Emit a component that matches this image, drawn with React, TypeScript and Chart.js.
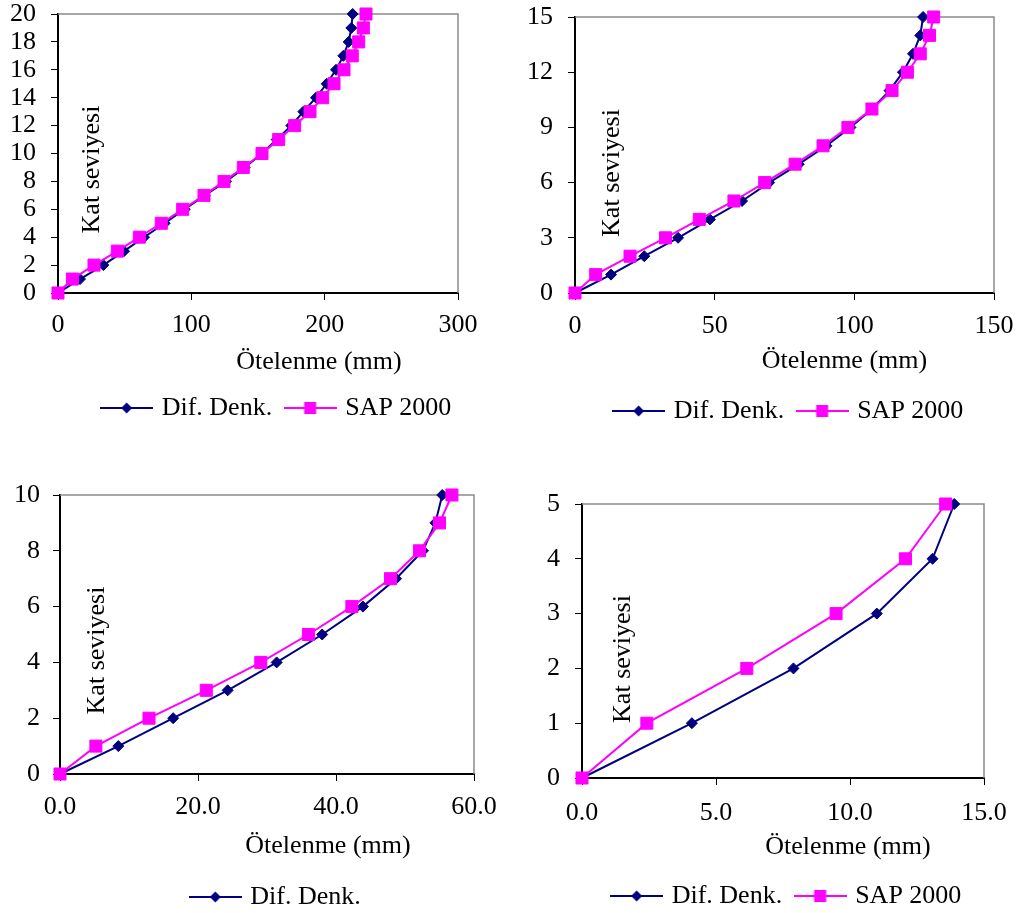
import React, { useEffect, useRef } from 'react';
import { Chart, registerables } from 'chart.js';

Chart.register(...registerables);

const FONT = "'Liberation Serif', 'Times New Roman', serif";
const NAVY = '#000080';
const MAGENTA = '#FF00FF';
const FONT_SIZE = 26;
const LEG_PAD = 16;

// ---- Data (floor level vs. displacement in mm) ----
const floors20 = [0, 1, 2, 3, 4, 5, 6, 7, 8, 9, 10, 11, 12, 13, 14, 15, 16, 17, 18, 19, 20];
const difDenk20 = [0, 16.5, 34, 49.5, 64.5, 80, 95, 110, 126, 140, 153, 164, 175, 184, 193.5, 201.5, 208.5, 214, 218, 220, 221];
const sap20 = [0, 10.8, 27, 44.5, 61, 77.5, 93.5, 109.5, 124.5, 139, 153, 165.5, 177.5, 189, 198.5, 207, 214.5, 220.7, 225.5, 229, 231];
const xTicks20 = [0, 100, 200, 300];
const yTicks20 = [0, 2, 4, 6, 8, 10, 12, 14, 16, 18, 20];

const floors15 = [0, 1, 2, 3, 4, 5, 6, 7, 8, 9, 10, 11, 12, 13, 14, 15];
const difDenk15 = [0, 12.9, 24.8, 36.9, 48.3, 59.8, 69.5, 80.1, 90, 98.6, 106.3, 112.6, 117.4, 121, 123.6, 124.6];
const sap15 = [0, 7.4, 19.7, 32.4, 44.5, 56.9, 67.9, 78.8, 88.8, 97.7, 106.3, 113.5, 119, 123.6, 126.9, 128.4];
const xTicks15 = [0, 50, 100, 150];
const yTicks15 = [0, 3, 6, 9, 12, 15];

const floors10 = [0, 1, 2, 3, 4, 5, 6, 7, 8, 9, 10];
const difDenk10 = [0, 8.45, 16.4, 24.3, 31.4, 38.0, 43.9, 48.7, 52.6, 54.4, 55.4];
const sap10 = [0, 5.2, 12.9, 21.2, 29.1, 36.0, 42.3, 47.9, 52.1, 55.0, 56.8];
const xTicks10 = [0, 20, 40, 60];
const yTicks10 = [0, 2, 4, 6, 8, 10];

const floors5 = [0, 1, 2, 3, 4, 5];
const difDenk5 = [0, 4.1, 7.89, 11.0, 13.08, 13.89];
const sap5 = [0, 2.42, 6.15, 9.48, 12.07, 13.57];
const xTicks5 = [0, 5, 10, 15];
const yTicks5 = [0, 1, 2, 3, 4, 5];

const seriesNames = ['Dif. Denk.', 'SAP 2000'];
const xTitle = 'Ötelenme (mm)';
const yTitle = 'Kat seviyesi';

// ---- Layout of the four panels (page pixels) ----
const panels = [
  {
    key: 'p20', floors: floors20, dif: difDenk20, sap: sap20, xTicks: xTicks20, yTicks: yTicks20, decimals: 0, legendCount: 2,
    canvas: { left: 0, top: -20, width: 556 }, area: { left: 58, right: 458, top: 14, bottom: 293 }, legendY: 408,
    xPad: 9.5, yPad: 15, titleDx: 61, titleDy: 69, labelDx: 34, labelDy: 16,
  },
  {
    key: 'p15', floors: floors15, dif: difDenk15, sap: sap15, xTicks: xTicks15, yTicks: yTicks15, decimals: 0, legendCount: 2,
    canvas: { left: 520, top: -20, width: 540 }, area: { left: 575, right: 994, top: 17, bottom: 293 }, legendY: 411,
    xPad: 11, yPad: 15, titleDx: 60, titleDy: 68, labelDx: 37, labelDy: 18,
  },
  {
    key: 'p10', floors: floors10, dif: difDenk10, sap: sap10, xTicks: xTicks10, yTicks: yTicks10, decimals: 1, legendCount: 1,
    canvas: { left: 0, top: 455, width: 554 }, area: { left: 60, right: 474, top: 495, bottom: 774 }, legendY: 897,
    xPad: 11, yPad: 13, titleDx: 61, titleDy: 72, labelDx: 37, labelDy: 16,
  },
  {
    key: 'p5', floors: floors5, dif: difDenk5, sap: sap5, xTicks: xTicks5, yTicks: yTicks5, decimals: 1, legendCount: 2,
    canvas: { left: 520, top: 455, width: 536 }, area: { left: 582, right: 984, top: 504, bottom: 778 }, legendY: 896,
    xPad: 13, yPad: 15, titleDx: 65, titleDy: 69, labelDx: 41, labelDy: 18,
  },
];

function makeSymbol(color: string, kind: 'diamond' | 'square'): HTMLCanvasElement {
  const c = document.createElement('canvas');
  c.width = 53;
  c.height = 16;
  const ctx = c.getContext('2d')!;
  ctx.strokeStyle = color;
  ctx.lineWidth = 2;
  ctx.beginPath();
  ctx.moveTo(0, 8);
  ctx.lineTo(53, 8);
  ctx.stroke();
  ctx.fillStyle = color;
  if (kind === 'diamond') {
    ctx.beginPath();
    ctx.moveTo(21, 8);
    ctx.lineTo(26.5, 2.5);
    ctx.lineTo(32, 8);
    ctx.lineTo(26.5, 13.5);
    ctx.closePath();
    ctx.fill();
  } else {
    ctx.fillRect(20.5, 2, 12, 12);
  }
  return c;
}

function layoutOf(p: any) {
  const cv = p.canvas;
  const area = p.area;
  const legendTop = p.legendY - LEG_PAD - FONT_SIZE / 2;
  const legendH = FONT_SIZE + LEG_PAD + 10;
  return {
    yW: area.left - cv.left,
    wR: cv.left + cv.width - area.right,
    padTop: area.top - cv.top,
    hx: legendTop - area.bottom,
    height: Math.ceil(legendTop + legendH - cv.top),
  };
}

function Panel({ p }: { p: any }) {
  const ref = useRef<HTMLCanvasElement>(null);
  const L = layoutOf(p);
  useEffect(() => {
    const canvas = ref.current!;
    const symbols = [makeSymbol(NAVY, 'diamond'), makeSymbol(MAGENTA, 'square')];

    const decor = {
      id: 'decor_' + p.key,
      beforeDatasetsDraw(chart: any) {
        const { ctx, chartArea: a } = chart;
        ctx.save();
        ctx.strokeStyle = '#8a8a8a';
        ctx.lineWidth = 1.5;
        ctx.beginPath();
        ctx.moveTo(a.left, a.top);
        ctx.lineTo(a.right, a.top);
        ctx.lineTo(a.right, a.bottom);
        ctx.stroke();
        ctx.fillStyle = '#000';
        ctx.font = `${FONT_SIZE}px ${FONT}`;
        ctx.textAlign = 'center';
        ctx.textBaseline = 'middle';
        ctx.fillText(xTitle, (a.left + a.right) / 2 + p.titleDx, a.bottom + p.titleDy);
        ctx.translate(a.left + p.labelDx, (a.top + a.bottom) / 2 + p.labelDy);
        ctx.rotate(-Math.PI / 2);
        ctx.fillText(yTitle, 0, 0);
        ctx.restore();
      },
    };

    const tickFont = { family: FONT, size: FONT_SIZE };
    const chart = new Chart(canvas, {
      type: 'line',
      data: {
        datasets: [
          {
            label: seriesNames[0],
            data: p.floors.map((f: number, i: number) => ({ x: p.dif[i], y: f })),
            borderColor: NAVY,
            backgroundColor: NAVY,
            borderWidth: 2,
            pointStyle: 'rectRot',
            pointRadius: 5.5,
            pointBorderWidth: 1,
            pointBackgroundColor: NAVY,
            pointBorderColor: NAVY,
            clip: false,
            order: 1,
          } as any,
          {
            label: seriesNames[1],
            data: p.floors.map((f: number, i: number) => ({ x: p.sap[i], y: f })),
            borderColor: MAGENTA,
            backgroundColor: MAGENTA,
            borderWidth: 2,
            pointStyle: 'rect',
            pointRadius: 8.5,
            pointBorderWidth: 1,
            pointBackgroundColor: MAGENTA,
            pointBorderColor: MAGENTA,
            clip: false,
            order: 0,
          } as any,
        ],
      },
      options: {
        responsive: false,
        animation: false,
        events: [],
        layout: { padding: { top: L.padTop, bottom: 0, left: 0, right: 0 } },
        scales: {
          x: {
            type: 'linear',
            min: p.xTicks[0],
            max: p.xTicks[p.xTicks.length - 1],
            afterBuildTicks: (s: any) => { s.ticks = p.xTicks.map((v: number) => ({ value: v })); },
            afterFit: (s: any) => { s.height = L.hx; },
            grid: { drawOnChartArea: false, drawTicks: true, tickLength: 7, color: '#000', lineWidth: 1 },
            border: { display: true, color: '#000', width: 2 },
            ticks: {
              color: '#000', font: tickFont, padding: p.xPad, maxRotation: 0, autoSkip: false,
              callback: (v: any) => Number(v).toFixed(p.decimals),
            },
          },
          y: {
            type: 'linear',
            position: 'left',
            min: p.yTicks[0],
            max: p.yTicks[p.yTicks.length - 1],
            afterBuildTicks: (s: any) => { s.ticks = p.yTicks.map((v: number) => ({ value: v })); },
            afterFit: (s: any) => { s.width = L.yW; },
            grid: { drawOnChartArea: false, drawTicks: true, tickLength: 7, color: '#000', lineWidth: 1 },
            border: { display: true, color: '#000', width: 2 },
            ticks: { color: '#000', font: tickFont, padding: p.yPad, autoSkip: false, callback: (v: any) => String(v) },
          },
          yR: {
            type: 'linear',
            position: 'right',
            display: true,
            afterFit: (s: any) => { s.width = L.wR; },
            grid: { display: false },
            border: { display: false },
            ticks: { display: false },
          },
        },
        plugins: {
          tooltip: { enabled: false },
          legend: {
            display: true,
            position: 'bottom',
            labels: {
              usePointStyle: true,
              pointStyleWidth: 44,
              padding: LEG_PAD,
              color: '#000',
              font: { family: FONT, size: FONT_SIZE },
              generateLabels: (ch: any) =>
                ch.data.datasets.slice(0, p.legendCount).map((ds: any, i: number) => ({
                  text: ds.label,
                  pointStyle: symbols[i],
                  fillStyle: ds.borderColor,
                  strokeStyle: ds.borderColor,
                  lineWidth: 0,
                  hidden: false,
                  datasetIndex: i,
                  fontColor: '#000',
                })),
            },
          },
        },
      } as any,
      plugins: [decor],
    });
    return () => chart.destroy();
  }, []);
  return (
    <canvas
      ref={ref}
      width={p.canvas.width}
      height={L.height}
      style={{ position: 'absolute', left: p.canvas.left, top: p.canvas.top }}
    />
  );
}

export default function App() {
  return (
    <div style={{ position: 'absolute', left: 0, top: 0, width: 1020, height: 913, overflow: 'hidden', background: '#fff' }}>
      {panels.map((p) => (
        <Panel key={p.key} p={p} />
      ))}
    </div>
  );
}
